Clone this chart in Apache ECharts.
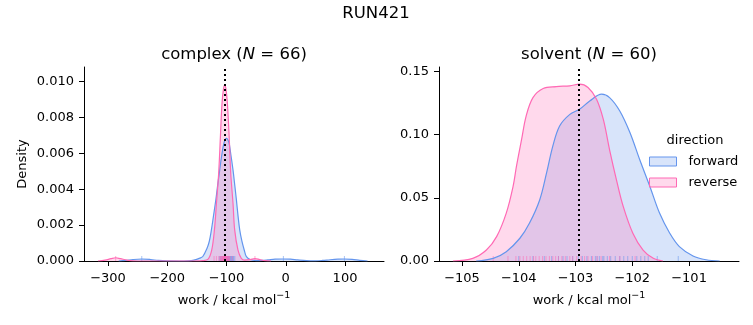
<!DOCTYPE html>
<html>
<head>
<meta charset="utf-8">
<script src="https://cdn.jsdelivr.net/npm/echarts@6/dist/echarts.min.js"></script>
<style>html,body{margin:0;padding:0;background:#fff}#c{width:753px;height:325px}</style>
</head>
<body>
<div id="c"></div>
<script>
// ---------- data ----------
const suptitle = 'RUN421';
const seriesNames = ['forward', 'reverse'];
// complex panel KDE curves (work, density)
const complexFwdX = [-282,-270,-258,-243,-228,-215,-200,-180,-165,-155,-145,-140,-133,-129,-125.5,-122,-118,-115,-111.5,-108,-104,-100.2,-96,-93,-89,-86,-83.3,-80.5,-77.7,-74,-70,-66.4,-60,-50,-40,-30,-18,-5,8,20,35,50,62,75,88,99,112,125,138];
const complexFwdY = [0,0.00003,0.00008,0.00011,0.00008,0.00003,0.000005,0,0.00001,0.00005,0.00016,0.00025,0.0007,0.0011,0.00173,0.0025,0.0034,0.0042,0.00506,0.0059,0.0066,0.00683,0.0066,0.006,0.00506,0.0042,0.0034,0.0025,0.00173,0.0011,0.0006,0.00024,0.00008,0.00002,0.00003,0.00006,0.0001,0.00011,0.0001,0.00006,0.00002,0.00001,0.00003,0.00007,0.0001,0.00011,0.00009,0.00004,0];
const complexRevX = [-317,-305,-295,-287,-279,-268,-258,-240,-200,-160,-140,-131,-125,-120.4,-117,-113.2,-110.3,-107.6,-105,-103,-101,-98.5,-95.5,-92.9,-89,-86.2,-80.6,-75,-69.3,-60,-52,-44,-35,-25];
const complexRevY = [0,0.00005,0.00013,0.00018,0.00013,0.00005,0.00001,0,0,0,0.00002,0.0001,0.0006,0.00173,0.0032,0.0049,0.00692,0.00877,0.0096,0.00979,0.0096,0.00877,0.00692,0.0049,0.0032,0.00173,0.0006,0.00015,0.00005,0.00008,0.00013,0.00008,0.00002,0];
// complex rug samples
const complexFwdRug = [-243,-112,-110,-108.5,-107,-106,-105,-104,-103.5,-103,-102,-101.5,-101,-100.5,-100,-99.5,-99,-98.5,-98,-97,-96.5,-96,-95,-94,-93,-92,-91,-90,-89,-88,-86,-4,99];
const complexRevRug = [-287,-121,-117,-113,-111,-110,-109,-108,-107,-106.5,-106,-105.5,-105,-104.5,-104,-103.5,-103,-102.5,-102,-101.5,-101,-100.5,-100,-99.5,-99,-98,-97.5,-97,-96,-95,-94,-90,-52];
// solvent panel KDE curves
const solventFwdX = [-104.75,-104.45,-104.22,-103.98,-103.81,-103.63,-103.51,-103.40,-103.28,-103.10,-102.93,-102.75,-102.54,-102.40,-102.22,-102.04,-101.87,-101.69,-101.52,-101.34,-101.17,-100.93,-100.70,-100.46];
const solventFwdY = [0,0.0021,0.0074,0.018,0.030,0.0485,0.0697,0.0909,0.1068,0.116,0.120,0.1266,0.132,0.1293,0.1187,0.1015,0.0803,0.059,0.0379,0.022,0.0114,0.004,0.001,0];
const solventRevX = [-105.16,-104.81,-104.57,-104.39,-104.22,-104.10,-104.04,-103.95,-103.87,-103.75,-103.57,-103.34,-103.10,-102.93,-102.78,-102.63,-102.51,-102.40,-102.28,-102.16,-101.99,-101.81,-101.63,-101.46];
const solventRevY = [0,0.0021,0.0087,0.0193,0.0379,0.059,0.075,0.0962,0.1147,0.1293,0.1365,0.138,0.1386,0.1399,0.1373,0.128,0.112,0.088,0.0644,0.0432,0.022,0.0087,0.0021,0];
// solvent rug samples
const solventFwdRug = [-104.00,-103.75,-103.55,-103.42,-103.30,-103.22,-103.15,-103.05,-102.95,-102.88,-102.80,-102.72,-102.65,-102.62,-102.58,-102.52,-102.50,-102.44,-102.38,-102.30,-102.22,-102.15,-102.08,-102.00,-101.92,-101.85,-101.78,-101.72,-101.56,-101.19];
const solventRevRug = [-104.45,-104.19,-104.05,-103.98,-103.92,-103.86,-103.80,-103.74,-103.70,-103.64,-103.58,-103.52,-103.46,-103.40,-103.35,-103.30,-103.24,-103.18,-103.10,-103.05,-102.98,-102.90,-102.84,-102.78,-102.70,-102.62,-102.55,-102.40,-102.22,-101.95];
// free energy estimates (dotted lines)
const complexDG = -103.0;
const solventDG = -102.94;
// tick values
const complexXTicks = [-300,-200,-100,0,100];
const complexYTicks = [0,0.002,0.004,0.006,0.008,0.010];
const solventXTicks = [-105,-104,-103,-102,-101];
const solventYTicks = [0,0.05,0.10,0.15];

// ---------- styling ----------
const FONT = 'DejaVu Sans';
const BLUE = '#6495ED', PINK = '#FF69B4';
const BLUE_F = 'rgba(100,149,237,0.25)', PINK_F = 'rgba(255,105,180,0.25)';
const minus = s => String(s).replace('-', '\u2212');
const zip = (xs, ys) => xs.map((x, i) => [x, ys[i]]);

function kde(name, xs, ys, idx, color, fill) {
  return {
    type: 'line', name, xAxisIndex: idx, yAxisIndex: idx,
    data: zip(xs, ys), showSymbol: false, smooth: 0.35, silent: true,
    lineStyle: {color, width: 1.2}, itemStyle: {color},
    areaStyle: {color: fill, opacity: 1}
  };
}
function rug(xs, idx, color) {
  return {
    type: 'custom', xAxisIndex: idx, yAxisIndex: idx, silent: true, z: 3,
    data: xs.map(x => [x, 0]),
    renderItem: (params, api) => {
      const p = api.coord([api.value(0), 0]);
      return {type: 'line', shape: {x1: p[0], y1: p[1], x2: p[0], y2: p[1] - 5},
              style: {stroke: color, lineWidth: 1, opacity: 0.55}};
    }
  };
}
function dg(value) {
  return {symbol: 'none', silent: true, label: {show: false},
          lineStyle: {color: '#000', type: [2, 3], width: 2},
          data: [{xAxis: value}]};
}
const axLine = {show: true, onZero: false, lineStyle: {color: '#000', width: 1}};
const axTick = vals => ({show: true, length: 5, customValues: vals, lineStyle: {color: '#000', width: 1}});
const labelStyle = {color: '#000', fontSize: 13, fontFamily: FONT};
const xName = {
  name: '{n|work / kcal mol}{s|\u22121}', nameLocation: 'middle', nameGap: 30,
  nameTextStyle: {rich: {
    n: {fontSize: 13, fontFamily: FONT, color: '#000', lineHeight: 16, verticalAlign: 'bottom'},
    s: {fontSize: 9.5, fontFamily: FONT, color: '#000', lineHeight: 16, verticalAlign: 'top'}
  }}
};
const titleRich = {
  t: {fontSize: 16.5, fontFamily: FONT, color: '#000', fontWeight: 'normal'},
  i: {fontSize: 16.5, fontFamily: FONT, color: '#000', fontWeight: 'normal', fontStyle: 'italic'}
};

const chart = echarts.init(document.getElementById('c'), null, {renderer: 'canvas'});
chart.setOption({
  animation: false,
  backgroundColor: '#fff',
  title: [
    {text: suptitle, left: 376, top: 5, textAlign: 'center', padding: 0,
     textStyle: {fontSize: 16.5, fontWeight: 'normal', color: '#000', fontFamily: FONT}},
    {text: '{t|complex (}{i|N}{t| = 66)}', left: 234, top: 46, textAlign: 'center', padding: 0,
     textStyle: {fontWeight: 'normal', rich: titleRich}},
    {text: '{t|solvent (}{i|N}{t| = 60)}', left: 589, top: 46, textAlign: 'center', padding: 0,
     textStyle: {fontWeight: 'normal', rich: titleRich}},
    {text: 'direction', left: 695, top: 134, textAlign: 'center', padding: 0,
     textStyle: {fontSize: 13, fontWeight: 'normal', color: '#000', fontFamily: FONT}}
  ],
  legend: {
    orient: 'vertical', left: 649, top: 155, padding: 0, itemGap: 8,
    itemWidth: 27, itemHeight: 9, selectedMode: false,
    textStyle: {fontSize: 13, color: '#000', fontFamily: FONT, padding: [0, 0, 0, 7]},
    data: [
      {name: seriesNames[0], icon: 'rect', itemStyle: {color: BLUE_F, borderColor: BLUE, borderWidth: 1}},
      {name: seriesNames[1], icon: 'rect', itemStyle: {color: PINK_F, borderColor: PINK, borderWidth: 1}}
    ]
  },
  grid: [
    {left: 84, top: 67, width: 300, height: 194},
    {left: 439, top: 67, width: 300, height: 194}
  ],
  xAxis: [
    Object.assign({gridIndex: 0, type: 'value', min: -340.5, max: 165.8,
      axisLine: axLine, axisTick: axTick(complexXTicks), splitLine: {show: false},
      axisLabel: Object.assign({customValues: complexXTicks, margin: 11, formatter: v => minus(v)}, labelStyle)}, xName),
    Object.assign({gridIndex: 1, type: 'value', min: -105.405, max: -100.12,
      axisLine: axLine, axisTick: axTick(solventXTicks), splitLine: {show: false},
      axisLabel: Object.assign({customValues: solventXTicks, margin: 11, formatter: v => minus(v)}, labelStyle)}, xName)
  ],
  yAxis: [
    {gridIndex: 0, type: 'value', min: 0, max: 0.0108,
     axisLine: axLine, axisTick: axTick(complexYTicks), splitLine: {show: false},
     axisLabel: Object.assign({customValues: complexYTicks, margin: 10, formatter: v => v.toFixed(3)}, labelStyle),
     name: 'Density', nameLocation: 'middle', nameGap: 55, nameRotate: 90,
     nameTextStyle: {fontSize: 13, color: '#000', fontFamily: FONT}},
    {gridIndex: 1, type: 'value', min: 0, max: 0.1535,
     axisLine: axLine, axisTick: axTick(solventYTicks), splitLine: {show: false},
     axisLabel: Object.assign({customValues: solventYTicks, margin: 10, formatter: v => v.toFixed(2)}, labelStyle)}
  ],
  series: [
    kde(seriesNames[0], complexFwdX, complexFwdY, 0, BLUE, BLUE_F),
    Object.assign(kde(seriesNames[1], complexRevX, complexRevY, 0, PINK, PINK_F), {markLine: dg(complexDG)}),
    rug(complexFwdRug, 0, BLUE),
    rug(complexRevRug, 0, PINK),
    kde(seriesNames[0], solventFwdX, solventFwdY, 1, BLUE, BLUE_F),
    Object.assign(kde(seriesNames[1], solventRevX, solventRevY, 1, PINK, PINK_F), {markLine: dg(solventDG)}),
    rug(solventFwdRug, 1, BLUE),
    rug(solventRevRug, 1, PINK)
  ]
});
</script>
</body>
</html>
